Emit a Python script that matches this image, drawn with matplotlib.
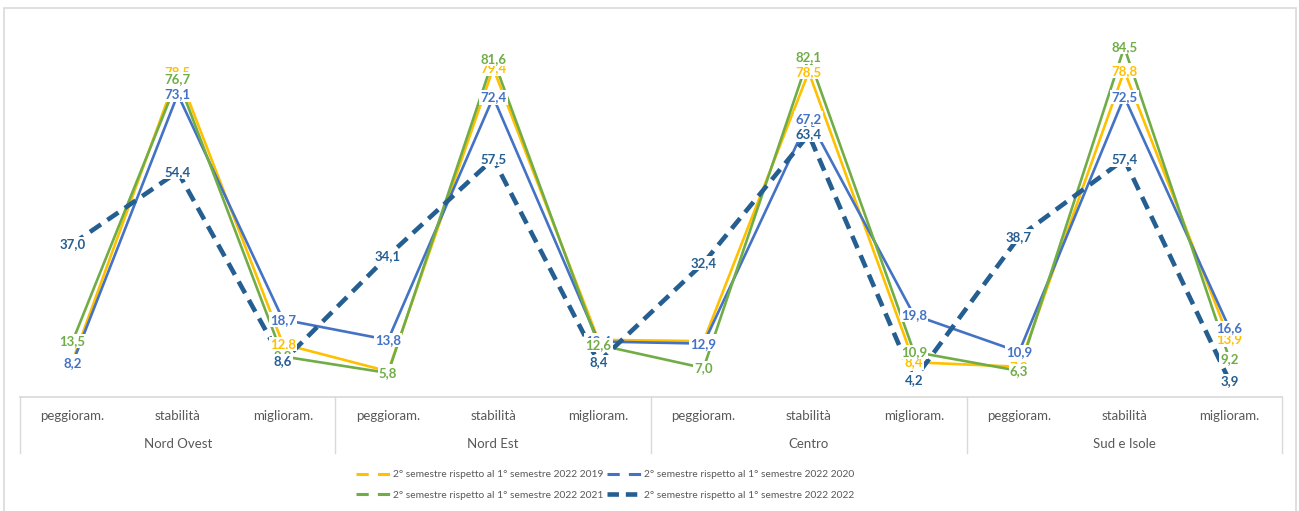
import numpy as np
import matplotlib
matplotlib.use('Agg')
import matplotlib.pyplot as plt
from matplotlib.lines import Line2D
from matplotlib.patches import Rectangle
import matplotlib.transforms as mtransforms

# dati
regioni = ['Nord Ovest', 'Nord Est', 'Centro', 'Sud e Isole']
giudizi = ['peggioram.', 'stabilità', 'miglioram.']

s2019 = [8.7, 78.5, 12.8, 6.2, 79.4, 13.8, 13.5, 78.5, 8.4, 7.3, 78.8, 13.9]
s2020 = [8.2, 73.1, 18.7, 13.8, 72.4, 13.4, 12.9, 67.2, 19.8, 10.9, 72.5, 16.6]
s2021 = [13.5, 76.7, 9.8, 5.8, 81.6, 12.6, 7.0, 82.1, 10.9, 6.3, 84.5, 9.2]
s2022 = [37.0, 54.4, 8.6, 34.1, 57.5, 8.4, 32.4, 63.4, 4.2, 38.7, 57.4, 3.9]

nomi = ['2° semestre rispetto al 1° semestre 2022 2019',
        '2° semestre rispetto al 1° semestre 2022 2020',
        '2° semestre rispetto al 1° semestre 2022 2021',
        '2° semestre rispetto al 1° semestre 2022 2022']

colori = ['#FFC000', '#4472C4', '#70AD47', '#255E91']
grigio = '#595959'

plt.rcParams['font.family'] = ['Lato', 'DejaVu Sans']

W, H = 1299, 511
fig = plt.figure(figsize=(W / 100, H / 100), dpi=100)
ax = fig.add_axes([20 / W, (H - 397) / H, 1262 / W, 372.6 / H])

# cornice esterna del grafico
fig.patches.append(Rectangle((4 / W, -0.1), 1292 / W, (H - 8) / H + 0.1,
                             transform=fig.transFigure, fill=False,
                             ec='#D9D9D9', lw=1.2))

serie = [s2019, s2020, s2021, s2022]
x = np.arange(len(s2019))

for i, (vals, col) in enumerate(zip(serie, colori)):
    if i == 3:
        ax.plot(x, vals, color=col, lw=3.3, dashes=(2.9, 1.7), zorder=2 + i)
    else:
        ax.plot(x, vals, color=col, lw=1.9, zorder=2 + i)

# etichette dati (sopra tutte le linee, nell'ordine delle serie)
for i, (vals, col) in enumerate(zip(serie, colori)):
    for xi, v in zip(x, vals):
        ax.text(xi, v, f'{v:.1f}'.replace('.', ','), color=col, fontsize=9.5,
                fontweight='bold', ha='center', va='center', zorder=10 + i,
                bbox=dict(boxstyle='square,pad=0.1', fc='white', ec='none'))

ax.set_xlim(-0.5, len(x) - 0.5)
ax.set_ylim(0, 90)
ax.set_xticks([])
ax.set_yticks([])
for s in ax.spines.values():
    s.set_visible(False)

# asse delle categorie a due livelli
trans = mtransforms.blended_transform_factory(ax.transData, ax.transAxes)
h_ax = 372.6
ax.plot([-0.5, len(x) - 0.5], [0, 0], transform=trans, color='#D9D9D9',
        lw=1.2, clip_on=False)
for b in np.arange(len(regioni) + 1) * 3 - 0.5:
    ax.plot([b, b], [0, -56 / h_ax], transform=trans, color='#D9D9D9',
            lw=1.0, clip_on=False)
for xi in x:
    ax.text(xi, -19 / h_ax, giudizi[xi % 3], transform=trans, ha='center',
            va='center', fontsize=9.5, color=grigio)
for k, reg in enumerate(regioni):
    ax.text(k * 3 + 1, -47 / h_ax, reg, transform=trans, ha='center',
            va='center', fontsize=9.5, color=grigio)

# legenda (matplotlib riempie per colonne: ordine 2019, 2021, 2020, 2022)
handles = [Line2D([], [], color=colori[i], lw=2.2, dashes=(4, 3)) for i in range(3)]
handles.append(Line2D([], [], color=colori[3], lw=3.3, dashes=(2.5, 1.5)))
ordine = [0, 2, 1, 3]
leg = fig.legend([handles[i] for i in ordine], [nomi[i] for i in ordine],
                 ncol=2, loc='center',
                 bbox_to_anchor=(605 / W, (H - 485) / H), frameon=False,
                 fontsize=7.4, handlelength=3.4, handletextpad=0.2,
                 columnspacing=0.3, labelspacing=1.1)
for t in leg.get_texts():
    t.set_color(grigio)

fig.savefig('out.png', dpi=100, facecolor='white')
